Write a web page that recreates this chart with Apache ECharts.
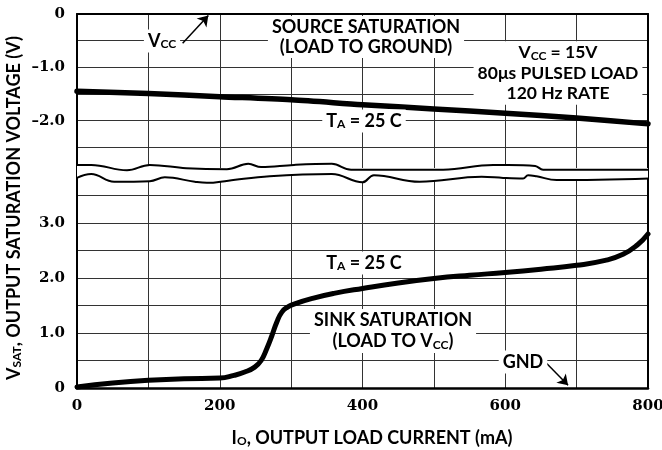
<!DOCTYPE html>
<html>
<head>
<meta charset="utf-8">
<script src="https://cdn.jsdelivr.net/npm/echarts@6/dist/echarts.min.js"></script>
<style>
  html, body { margin: 0; padding: 0; background: #fff; }
  #chart { width: 662px; height: 450px; }
</style>
</head>
<body>
<div id="chart"></div>
<script>
// source saturation (load to ground), Vcc reference, volts below Vcc
var sourceI = [0, 100, 200, 300, 400, 500, 600, 700, 800];
var sourceV = [-1.45, -1.49, -1.55, -1.61, -1.70, -1.78, -1.86, -1.95, -2.06];

// sink saturation (load to Vcc), volts above GND
var sinkI = [0, 50, 100, 150, 200, 220, 235, 249, 258, 266, 273, 280, 287, 295, 305, 330, 360, 400, 450, 500, 550, 600, 650, 700, 740, 765, 785, 800];
var sinkV = [0.02, 0.09, 0.14, 0.17, 0.18, 0.23, 0.29, 0.38, 0.50, 0.72, 0.95, 1.20, 1.38, 1.47, 1.53, 1.63, 1.72, 1.81, 1.91, 1.99, 2.05, 2.10, 2.16, 2.23, 2.32, 2.43, 2.60, 2.80];

// axis break squiggles
var breakTopI = [-2, 20, 70, 102, 153, 210, 240, 258, 304, 357, 384, 513, 583, 604, 642, 653, 802];
var breakTopV = [-2.83, -2.83, -2.93, -2.83, -2.89, -2.91, -2.81, -2.87, -2.83, -2.81, -2.92, -2.92, -2.83, -2.83, -2.85, -2.92, -2.92];
var breakLowI = [-2, 20, 52, 102, 123, 165, 182, 212, 270, 357, 400, 416, 480, 567, 597, 625, 632, 644, 672, 802];
var breakLowV = [3.81, 3.89, 3.75, 3.76, 3.83, 3.75, 3.73, 3.77, 3.85, 3.89, 3.74, 3.87, 3.75, 3.84, 3.82, 3.81, 3.87, 3.85, 3.78, 3.81];

// arrows for the VCC and GND notes
var vccArrow = [[148, -0.55], [184, -0.03]];
var gndArrow = [[654, 0.50], [688, 0.05]];

var xTicks = [0, 200, 400, 600, 800];
var topTicks = [0, -1, -2];
var lowTicks = [0, 1, 2, 3];

function pairs(xs, ys) {
  return xs.map(function (x, i) { return [x, ys[i]]; });
}

var chart = echarts.init(document.getElementById('chart'));

var tickFont = { fontFamily: 'DejaVu Serif', fontWeight: 'bold', fontSize: 15, color: '#000' };
var grid = { lineStyle: { color: '#333', width: 1 } };
var frame = { show: true, onZero: false, lineStyle: { color: '#000', width: 2 } };

function richFor(size, lh) {
  return {
    n: { font: 'bold ' + size + 'px Lato', fill: '#000', lineHeight: lh },
    s: { font: 'bold ' + Math.round(size * 0.66) + 'px Lato', fill: '#000', lineHeight: lh, padding: [7, 0, 0, 0] }
  };
}

function note(x, y, text, size, lh) {
  return {
    type: 'text', x: x, y: y, z: 100,
    style: {
      text: text, rich: richFor(size || 18, lh || 21), align: 'center', verticalAlign: 'middle',
      backgroundColor: '#fff', padding: [1, 4]
    }
  };
}

function arrow(pts, xi, yi) {
  return {
    type: 'lines', coordinateSystem: 'cartesian2d', xAxisIndex: xi, yAxisIndex: yi, z: 6, silent: true,
    symbol: ['none', 'arrow'], symbolSize: 10,
    lineStyle: { color: '#000', width: 1.5, opacity: 1 },
    data: [{ coords: pts }]
  };
}

var option = {
  backgroundColor: '#fff',
  animation: false,
  grid: [
    { left: 77, right: 14, top: 14, height: 160, outerBoundsMode: 'none' },
    { left: 77, right: 14, top: 168, height: 220, outerBoundsMode: 'none' }
  ],
  xAxis: [
    {
      gridIndex: 0, type: 'value', min: 0, max: 800, interval: 100, position: 'top',
      axisLine: frame, axisTick: { show: false }, axisLabel: { show: false }, splitLine: grid
    },
    {
      gridIndex: 1, type: 'value', min: 0, max: 800, interval: 100, position: 'bottom',
      axisLine: { show: true, onZero: false, lineStyle: { color: '#000', width: 2.5 } },
      axisTick: { show: false }, splitLine: grid,
      axisLabel: Object.assign({
        margin: 11,
        formatter: function (v) { return xTicks.indexOf(v) >= 0 ? String(v) : ''; }
      }, tickFont)
    }
  ],
  yAxis: [
    {
      gridIndex: 0, type: 'value', min: -3, max: 0, interval: 0.5,
      axisLine: frame, axisTick: { show: false }, splitLine: grid,
      axisLabel: Object.assign({
        margin: 12,
        formatter: function (v) {
          if (topTicks.indexOf(v) < 0) return '';
          return v === 0 ? '0' : '\u2013' + Math.abs(v).toFixed(1);
        }
      }, tickFont)
    },
    {
      gridIndex: 0, type: 'value', min: -3, max: 0, position: 'right',
      axisLine: frame, axisTick: { show: false }, axisLabel: { show: false }, splitLine: { show: false }
    },
    {
      gridIndex: 1, type: 'value', min: 0, max: 4, interval: 0.5,
      axisLine: frame, axisTick: { show: false }, splitLine: grid,
      axisLabel: Object.assign({
        margin: 12,
        formatter: function (v) {
          if (lowTicks.indexOf(v) < 0) return '';
          return v === 0 ? '0' : v.toFixed(1);
        }
      }, tickFont)
    },
    {
      gridIndex: 1, type: 'value', min: 0, max: 4, position: 'right',
      axisLine: frame, axisTick: { show: false }, axisLabel: { show: false }, splitLine: { show: false }
    }
  ],
  series: [
    {
      name: 'break top fill', type: 'line', xAxisIndex: 0, yAxisIndex: 0, z: 3,
      data: pairs(breakTopI, breakTopV), symbol: 'none', smooth: 0.4, clip: false,
      lineStyle: { width: 0 }, areaStyle: { color: '#fff', opacity: 1, origin: 'start' }, silent: true
    },
    {
      name: 'break low fill', type: 'line', xAxisIndex: 1, yAxisIndex: 2, z: 3,
      data: pairs(breakLowI, breakLowV), symbol: 'none', smooth: 0.4, clip: false,
      lineStyle: { width: 0 }, areaStyle: { color: '#fff', opacity: 1, origin: 'end' }, silent: true
    },
    {
      name: 'break top', type: 'line', xAxisIndex: 0, yAxisIndex: 0, z: 4,
      data: pairs(breakTopI, breakTopV), symbol: 'none', smooth: 0.4, clip: false,
      lineStyle: { color: '#000', width: 2 }, silent: true
    },
    {
      name: 'break low', type: 'line', xAxisIndex: 1, yAxisIndex: 2, z: 4,
      data: pairs(breakLowI, breakLowV), symbol: 'none', smooth: 0.4, clip: false,
      lineStyle: { color: '#000', width: 2 }, silent: true
    },
    {
      name: 'Source', type: 'line', xAxisIndex: 0, yAxisIndex: 0, z: 5,
      data: pairs(sourceI, sourceV), symbol: 'none', smooth: 0.3,
      lineStyle: { color: '#000', width: 5.5, cap: 'round', join: 'round' }
    },
    {
      name: 'Sink', type: 'line', xAxisIndex: 1, yAxisIndex: 2, z: 5,
      data: pairs(sinkI, sinkV), symbol: 'none', smooth: 0.5,
      lineStyle: { color: '#000', width: 5, cap: 'round', join: 'round' }
    },
    arrow(vccArrow, 0, 0),
    arrow(gndArrow, 1, 2)
  ],
  graphic: [
    note(162, 41, '{n|V}{s|CC}'),
    note(366, 37, '{n|SOURCE SATURATION}\n{n|(LOAD TO GROUND)}', 18, 20),
    note(558, 73, '{n|V}{s|CC}{n| = 15V}\n{n|80\u03bcs PULSED LOAD}\n{n|120 Hz RATE}', 17.5, 20.5),
    note(364, 121, '{n|T}{s|A}{n| = 25 C}'),
    note(364, 263, '{n|T}{s|A}{n| = 25 C}'),
    note(393, 331, '{n|SINK SATURATION}\n{n|(LOAD TO V}{s|CC}{n|)}', 18, 21),
    note(523, 362, '{n|GND}'),
    {
      type: 'text', x: 372, y: 438, z: 100,
      style: { text: '{n|I}{s|O}{n|, OUTPUT LOAD CURRENT (mA)}', rich: richFor(18, 21), align: 'center', verticalAlign: 'middle' }
    },
    {
      type: 'text', x: 14, y: 208, z: 100, rotation: Math.PI / 2,
      style: { text: '{n|V}{s|SAT}{n|, OUTPUT SATURATION VOLTAGE (V)}', rich: richFor(18, 21), align: 'center', verticalAlign: 'middle' }
    }
  ]
};

chart.setOption(option);
</script>
</body>
</html>
